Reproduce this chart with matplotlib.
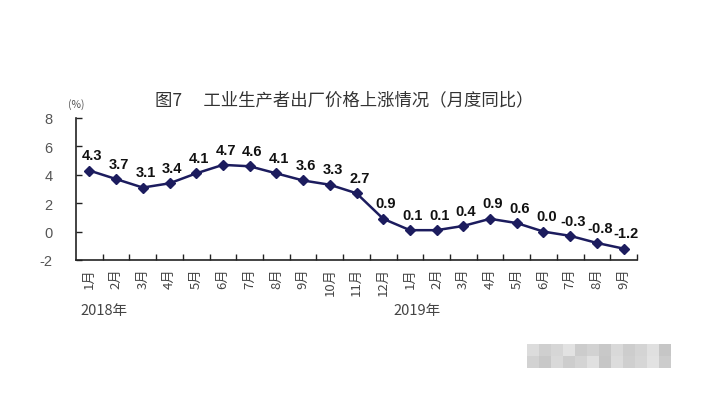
import matplotlib
matplotlib.use("Agg")
import matplotlib.pyplot as plt
from matplotlib.patches import Rectangle
import matplotlib.transforms as mtransforms

months = ["1月", "2月", "3月", "4月", "5月", "6月", "7月", "8月", "9月", "10月", "11月", "12月",
          "1月", "2月", "3月", "4月", "5月", "6月", "7月", "8月", "9月"]
values = [4.3, 3.7, 3.1, 3.4, 4.1, 4.7, 4.6, 4.1, 3.6, 3.3, 2.7, 0.9,
          0.1, 0.1, 0.4, 0.9, 0.6, 0.0, -0.3, -0.8, -1.2]
value_labels = ["4.3", "3.7", "3.1", "3.4", "4.1", "4.7", "4.6", "4.1", "3.6", "3.3", "2.7", "0.9",
                "0.1", "0.1", "0.4", "0.9", "0.6", "0.0", "-0.3", "-0.8", "-1.2"]
years = ["2018年", "2019年"]
year_start_index = [0, 12]
yticks = [-2, 0, 2, 4, 6, 8]
title = "图7　 工业生产者出厂价格上涨情况（月度同比）"

plt.rcParams['font.family'] = ['Noto Sans CJK SC', 'DejaVu Sans']

W, H = 716, 410
fig = plt.figure(figsize=(W / 100, H / 100), dpi=100)
fig.patch.set_facecolor("white")
ax = fig.add_axes([76 / W, 1 - 261 / H, (637 - 76) / W, (261 - 119) / H])

x = list(range(len(values)))
ax.plot(x, values, color="#1c1c5e", lw=1.8, marker="D", markersize=5.5,
        markerfacecolor="#1c1c5e", markeredgecolor="#1c1c5e", zorder=3)

for xi, v, lab in zip(x, values, value_labels):
    ax.annotate(lab, (xi, v), xytext=(2, 6), textcoords="offset points",
                ha="center", va="bottom", fontsize=10.5, fontweight="bold",
                family=["Liberation Sans", "DejaVu Sans"], color="#111111")

ax.set_xlim(-0.5, len(values) - 0.5)
ax.set_ylim(-2, 8)
ax.set_yticks(yticks)
ax.set_yticklabels([str(t) for t in yticks], fontsize=10.5,
                   family=["Liberation Sans", "DejaVu Sans"])
ax.tick_params(axis="y", direction="in", length=4, width=1, pad=17, colors="#222222",
               labelcolor="#555555")

ax.set_xticks([i + 0.5 for i in range(len(values))], minor=False)
ax.set_xticklabels([])
ax.tick_params(axis="x", direction="in", length=4, width=1, colors="#222222")

trans = mtransforms.blended_transform_factory(ax.transData, ax.transAxes)
for i, m in enumerate(months):
    ax.text(i, -0.05, m, transform=trans,
            rotation=90, ha="center", va="top", fontsize=9.5, color="#444444")

for yr, idx in zip(years, year_start_index):
    ax.text(idx - 0.35 - (0.25 if idx else 0), -0.3, yr, transform=trans,
            ha="left", va="top", fontsize=10.5, color="#444444")

for s in ["top", "right"]:
    ax.spines[s].set_visible(False)
for s in ["left", "bottom"]:
    ax.spines[s].set_color("#222222")
    ax.spines[s].set_linewidth(1.2)

fig.text(76 / W, 1 - 105 / H, "(%)", ha="center", va="center", fontsize=7.5, color="#555555")
fig.text(344 / W, 1 - 100 / H, title, ha="center", va="center", fontsize=12.5, color="#333333")

# blurred watermark block
greys = ["#dcdcdc", "#cfcfcf", "#d6d6d6", "#e2e2e2", "#cccccc", "#d2d2d2", "#c8c8c8", "#d9d9d9", "#cdcdcd", "#d4d4d4", "#e0e0e0", "#c6c6c6"]
bw = 12
for row in range(2):
    for col in range(12):
        x0 = 527 + col * bw
        y0 = 345 + row * 12
        fig.patches.append(Rectangle((x0 / W, 1 - (y0 + 12) / H), bw / W, 12 / H,
                                     transform=fig.transFigure, facecolor=greys[(col + row * 5) % 12],
                                     edgecolor="none"))

fig.savefig("out.png", dpi=100, facecolor="white")
